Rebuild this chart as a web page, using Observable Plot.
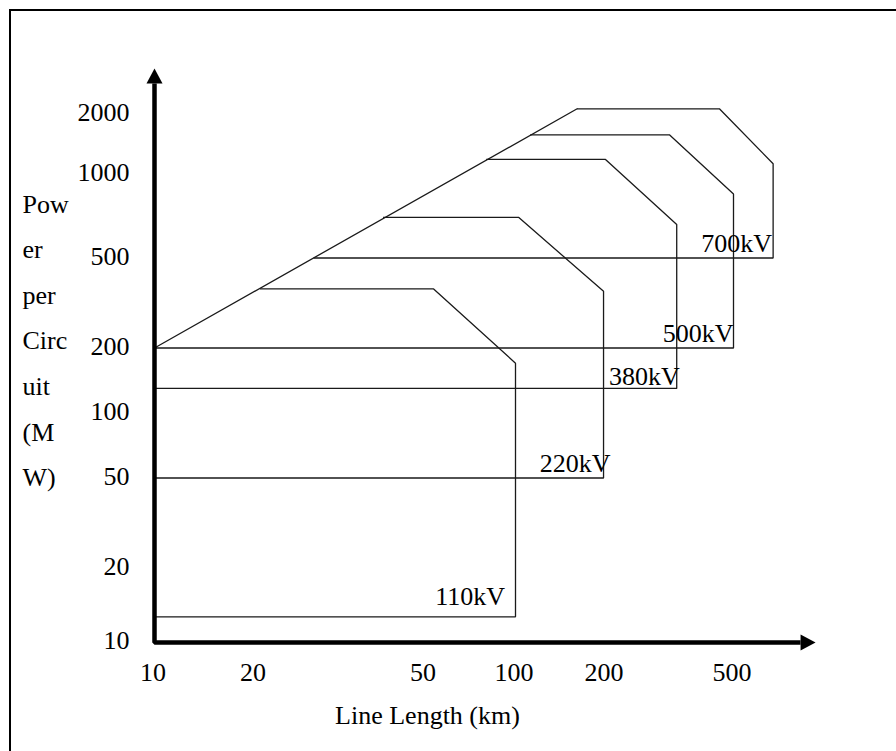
<!DOCTYPE html>
<html><head><meta charset="utf-8">
<script src="https://cdn.jsdelivr.net/npm/d3@7"></script>
<script src="https://cdn.jsdelivr.net/npm/@observablehq/plot@0.6"></script>
<style>
html,body{margin:0;padding:0;background:#fff;overflow:hidden;width:896px;height:751px;}
#wrap{position:relative;width:896px;height:751px;font-family:"Liberation Serif","Times New Roman",serif;color:#000;}
#frame{position:absolute;left:8.5px;top:8.5px;width:1200px;height:1200px;border:2.7px solid #000;box-sizing:border-box;}
#chart{position:absolute;left:0;top:0;}
#ytitle{position:absolute;left:22.5px;top:181.7px;font-size:26px;line-height:45.6px;}
#ytitle div{white-space:nowrap;height:45.6px;}
#xtitle{position:absolute;left:0;width:855px;top:701px;text-align:center;font-size:26px;line-height:30px;white-space:nowrap;}
</style></head>
<body><div id="wrap"><div id="frame"></div><div id="chart"></div><div id="ytitle"></div><div id="xtitle"></div></div>
<script>
// ---- data ----
const voltages       = ["110kV", "220kV", "380kV", "500kV", "700kV"];
const baseStartKm    = [10, 10, 10, 10, 27.5];      // left end of the lower limit line
const basePowerMW    = [12.7, 50, 130, 200, 500];   // lower limit line
const maxLengthKm    = [100, 197, 333, 500, 664];   // vertical limit
const kneePowerMW    = [170, 356, 660, 851, 1132];  // top of the vertical limit
const topPowerMW     = [365, 700, 1190, 1582, 2136];// upper limit line
const topEndKm       = [53.6, 102.6, 200, 316, 452];
const topStartKm     = [20.6, 40, 80, 112, 160.8];  // where the upper line meets the envelope
const envelopeKm     = [10, 160.8];
const envelopePowerMW= [200, 2136];
const xTicks = [10, 20, 50, 100, 200, 500];
const yTicks = [10, 20, 50, 100, 200, 500, 1000, 2000];
const axisEndKm = 808, axisEndMW = 2861;
const yTitleLines = ["Pow", "er", "per", "Circ", "uit", "(M", "W)"];
const xTitle = "Line Length (km)";

// ---- layout / style ----
const xPixels = [154, 254, 424, 515, 605, 733];
const yPixels = [642, 567.5, 477.5, 412.5, 347.5, 257.5, 174, 114];
const labelNudge = {
  "110kV": {dx: -10.5, dy: -20},
  "220kV": {dx: 7, dy: -14},
  "380kV": {dx: 3, dy: -12},
  "500kV": {dx: 0, dy: -14.5},
  "700kV": {dx: -1, dy: -14.5}
};
const FONT = '"Liberation Serif","Times New Roman",serif';

const shapes = voltages.flatMap((v, i) => [
  {v, km: baseStartKm[i], mw: basePowerMW[i]},
  {v, km: maxLengthKm[i], mw: basePowerMW[i]},
  {v, km: maxLengthKm[i], mw: kneePowerMW[i]},
  {v, km: topEndKm[i], mw: topPowerMW[i]},
  {v, km: topStartKm[i], mw: topPowerMW[i]}
]);
const envelope = envelopeKm.map((km, i) => ({km, mw: envelopePowerMW[i]}));
const labels = voltages.map((v, i) => ({v, km: maxLengthKm[i], mw: basePowerMW[i]}));
const axes = [{km: 10, mw: axisEndMW}, {km: 10, mw: 10}, {km: axisEndKm, mw: 10}];
const arrowHead = {draw(ctx) { ctx.moveTo(0, -15); ctx.lineTo(8, 0); ctx.lineTo(-8, 0); ctx.closePath(); }};

const chart = Plot.plot({
  width: 896, height: 751,
  marginTop: 0, marginRight: 0, marginBottom: 0, marginLeft: 0,
  style: {background: "transparent", fontFamily: FONT, fontSize: "26px", overflow: "visible"},
  x: {type: "log", domain: xTicks, range: xPixels, axis: null},
  y: {type: "log", domain: yTicks, range: yPixels, axis: null},
  marks: [
    Plot.line(shapes, {x: "km", y: "mw", z: "v", stroke: "#1a1a1a", strokeWidth: 1.3, strokeLinejoin: "miter", strokeLinecap: "butt"}),
    Plot.line(envelope, {x: "km", y: "mw", stroke: "#1a1a1a", strokeWidth: 1.3}),
    Plot.line(axes, {x: "km", y: "mw", stroke: "#000", strokeWidth: 4.5, strokeLinejoin: "miter", strokeLinecap: "butt"}),
    Plot.dot([axes[0]], {x: "km", y: "mw", symbol: arrowHead, fill: "#000", stroke: "none", r: 8}),
    Plot.dot([axes[2]], {x: "km", y: "mw", symbol: arrowHead, fill: "#000", stroke: "none", r: 8, rotate: 90}),
    Plot.text(xTicks, {x: d => d, y: () => 10, text: d => String(d), dy: 30, dx: -1.5, fontSize: 26, fill: "#000"}),
    Plot.text(yTicks, {x: () => 10, y: d => d, text: d => String(d), textAnchor: "end", dx: -25, dy: -1.5, fontSize: 26, fill: "#000"}),
    ...labels.map(d => Plot.text([d], {x: "km", y: "mw", text: "v", textAnchor: "end",
      dx: labelNudge[d.v].dx, dy: labelNudge[d.v].dy, fontSize: 26, fill: "#000"}))
  ]
});
document.getElementById("chart").appendChild(chart);

const yt = document.getElementById("ytitle");
yTitleLines.forEach(s => {
  const div = document.createElement("div");
  div.textContent = s;
  yt.appendChild(div);
});
document.getElementById("xtitle").textContent = xTitle;
</script></body></html>
